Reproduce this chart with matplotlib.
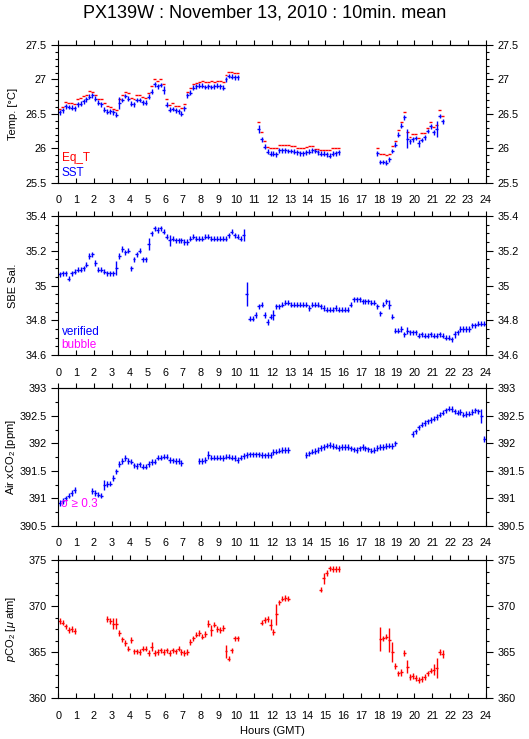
import numpy as np
import matplotlib
matplotlib.use("Agg")
import matplotlib.pyplot as plt
from matplotlib.ticker import MultipleLocator, FuncFormatter

plt.rcParams['font.family'] = ['Liberation Sans', 'DejaVu Sans']
plt.rcParams['mathtext.fontset'] = 'custom'
plt.rcParams['mathtext.rm'] = 'Liberation Sans'
plt.rcParams['mathtext.it'] = 'Liberation Sans:italic'
plt.rcParams['axes.linewidth'] = 0.8

STEP = 1.0 / 6.0   # 10-minute means
HALF = 1.0 / 12.0

TITLE = "PX139W : November 13, 2010 : 10min. mean"
hour_ticks = list(range(0, 25))
hour_labels = [str(h) for h in hour_ticks]

# ---------------- Temperature ----------------
sst_starts = [0.0833, 11.25, 17.9167]
sst_seg1 = [26.52, 26.55, 26.61, 26.60, 26.59, 26.58,
            26.64, 26.65, 26.68, 26.71, 26.75, 26.77,
            26.72, 26.66, 26.64, 26.56, 26.53, 26.54,
            26.52, 26.49, 26.66, 26.70, 26.76, 26.72,
            26.65, 26.64, 26.70, 26.70, 26.67, 26.66,
            26.75, 26.82, 26.93, 26.90, 26.92, 26.85,
            26.63, 26.56, 26.57, 26.55, 26.54, 26.50,
            26.58, 26.77, 26.81, 26.88, 26.90, 26.91,
            26.91, 26.89, 26.90, 26.89, 26.90, 26.91,
            26.90, 26.88, 27.00, 27.05, 27.04, 27.03,
            27.03]
sst_seg2 = [26.28, 26.13, 26.02, 25.95, 25.92,
            25.92, 25.91, 25.97, 25.97, 25.97, 25.96,
            25.96, 25.95, 25.94, 25.93, 25.93, 25.94,
            25.95, 25.97, 25.96, 25.94, 25.92, 25.92,
            25.91, 25.89, 25.92, 25.93, 25.94]
sst_seg3 = [25.93, 25.80, 25.80, 25.79, 25.84, 25.96, 26.05,
            26.20, 26.33, 26.45, 26.14, 26.10, 26.13,
            26.15, 26.07, 26.12, 26.16, 26.25, 26.32,
            26.23, 26.28, 26.47, 26.39]
eqt_seg1 = [26.57, 26.60, 26.67, 26.66, 26.66, 26.64,
            26.72, 26.73, 26.76, 26.78, 26.83, 26.82,
            26.78, 26.72, 26.71, 26.66, 26.62, 26.60,
            26.57, 26.56, 26.72, 26.77, 26.82, 26.81,
            26.73, 26.72, 26.78, 26.78, 26.75, 26.73,
            26.80, 26.90, 27.00, 26.97, 27.00, 26.93,
            26.72, 26.63, 26.66, 26.61, 26.62, 26.58,
            26.65, 26.82, 26.87, 26.94, 26.95, 26.96,
            26.97, 26.96, 26.96, 26.97, 26.96, 26.97,
            26.97, 26.96, 27.07, 27.11, 27.11, 27.10,
            27.10]
eqt_seg2 = [26.38, 26.23, 26.10, 26.02, 26.00,
            26.00, 26.00, 26.05, 26.05, 26.05, 26.05,
            26.04, 26.04, 26.00, 26.00, 26.00, 26.02,
            26.04, 26.04, 25.99, 25.99, 25.97, 25.97,
            25.97, 25.98, 26.00, 26.01, 26.01]
eqt_seg3 = [26.00, 25.91, 25.91, 25.90, 25.91, 26.04, 26.10,
            26.27, 26.38, 26.52, 26.24, 26.17, 26.21,
            26.21, 26.15, 26.22, 26.22, 26.30, 26.38,
            26.31, 26.34, 26.55, 26.47]
sst_err_default = 0.035
sst_err_large = {3.417: 0.09, 5.917: 0.06, 11.25: 0.06, 19.583: 0.14,
                 20.25: 0.05, 21.25: 0.12}

# ---------------- Salinity ----------------
sal_start = 0.0833
sal_vals = [35.065, 35.07, 35.07, 35.04, 35.07, 35.08,
            35.09, 35.09, 35.10, 35.12, 35.17, 35.18,
            35.13, 35.09, 35.09, 35.08, 35.07, 35.07,
            35.07, 35.10, 35.17, 35.21, 35.19, 35.20,
            35.10, 35.15, 35.18, 35.20, 35.15, 35.15,
            35.24, 35.30, 35.33, 35.32, 35.33, 35.31,
            35.28, 35.26, 35.27, 35.26, 35.26, 35.26,
            35.25, 35.25, 35.27, 35.28, 35.27, 35.27,
            35.27, 35.28, 35.28, 35.27, 35.27, 35.27,
            35.27, 35.27, 35.27, 35.29, 35.31, 35.29,
            35.28, 35.27, 35.29, 34.95, 34.81, 34.81,
            34.83, 34.88, 34.89, 34.83, 34.79, 34.82,
            34.83, 34.88, 34.88, 34.89, 34.90, 34.90,
            34.89, 34.89, 34.89, 34.89, 34.89, 34.89,
            34.87, 34.89, 34.89, 34.89, 34.88, 34.87,
            34.86, 34.86, 34.86, 34.87, 34.86, 34.86,
            34.86, 34.86, 34.89, 34.92, 34.92, 34.92,
            34.91, 34.91, 34.91, 34.90, 34.90, 34.88,
            34.84, 34.89, 34.91, 34.89, 34.82, 34.74,
            34.74, 34.75, 34.72, 34.74, 34.73, 34.73,
            34.73, 34.71, 34.72, 34.71, 34.71, 34.72,
            34.71, 34.71, 34.72, 34.71, 34.70, 34.70,
            34.69, 34.72, 34.73, 34.75, 34.75, 34.75,
            34.75, 34.77, 34.77, 34.78, 34.78, 34.78]
sal_err_default = 0.015
sal_err_large = {3.25: 0.04, 5.083: 0.035, 6.25: 0.03, 10.417: 0.035,
                 10.583: 0.07, 12.083: 0.03, 18.583: 0.025, 19.583: 0.02,
                 22.25: 0.02}

# ---------------- Air xCO2 ----------------
air_starts = [0.0833, 1.9167, 7.9167, 13.9167, 19.9167]
air_seg1 = [390.92, 390.95, 391.00, 391.05, 391.10, 391.15]
air_seg2 = [391.14, 391.10, 391.07, 391.05, 391.25, 391.26, 391.27, 391.37,
            391.49, 391.63, 391.68, 391.73, 391.68, 391.67, 391.60, 391.59,
            391.62, 391.58, 391.58, 391.63, 391.66, 391.67, 391.74, 391.74,
            391.76, 391.76, 391.70, 391.69, 391.68, 391.68, 391.64]
air_seg3 = [391.68, 391.68, 391.70, 391.79, 391.74, 391.74, 391.74, 391.74,
            391.73, 391.76, 391.76, 391.74, 391.73, 391.70, 391.74, 391.77,
            391.79, 391.80, 391.80, 391.80, 391.80, 391.79, 391.78, 391.79,
            391.79, 391.84, 391.85, 391.87, 391.88, 391.88, 391.88]
air_seg4 = [391.79, 391.82, 391.85, 391.86, 391.88, 391.92, 391.93, 391.96,
            391.97, 391.95, 391.94, 391.92, 391.93, 391.93, 391.93, 391.91,
            391.89, 391.88, 391.91, 391.93, 391.91, 391.89, 391.87, 391.88,
            391.92, 391.93, 391.93, 391.95, 391.96, 391.95, 392.00]
air_seg5 = [392.17, 392.22, 392.29, 392.34, 392.37, 392.40, 392.42, 392.45,
            392.48, 392.52, 392.56, 392.60, 392.63, 392.62, 392.58, 392.56,
            392.57, 392.52, 392.53, 392.54, 392.57, 392.60, 392.58, 392.50,
            392.08]
air_err_default = 0.05
air_err_large = {2.583: 0.09, 8.417: 0.07, 23.75: 0.13}

# ---------------- pCO2 ----------------
pco2_starts = [0.0833, 2.75, 11.4167, 14.75, 18.0833]
pco2_seg1 = [368.4, 368.2, 367.8, 367.4, 367.5, 367.3]
pco2_seg2 = [368.6, 368.4, 368.1, 368.1, 367.1, 366.4, 366.0, 365.4, 366.3, 365.1,
             365.1, 365.0, 365.4, 365.4, 364.9, 365.6, 364.9, 365.0, 365.2, 365.0,
             365.2, 364.9, 365.2, 365.1, 365.4, 365.0, 364.9, 365.0, 366.1, 366.5,
             366.9, 367.1, 366.7, 367.0, 368.1, 367.4, 368.0, 367.5, 367.4, 367.6,
             365.1, 364.3, 365.2, 366.5, 366.5]
pco2_seg3 = [368.2, 368.5, 368.6, 368.0, 367.2, 369.1, 370.4, 370.8, 370.9, 370.8]
pco2_seg4 = [371.8, 373.0, 373.6, 374.1, 374.0, 374.0, 374.0]
pco2_seg5 = [366.4, 366.5, 366.7, 366.3, 365.0, 363.5, 362.7, 362.8, 364.9, 363.4,
             362.3, 362.4, 362.2, 362.0, 362.1, 362.3, 362.7, 363.0, 363.1, 363.3,
             365.0, 364.8]
pco2_err_default = 0.3
pco2_err_large = {3.083: 0.6, 3.25: 0.6, 5.25: 0.5, 8.417: 0.4, 8.583: 0.6,
                  9.417: 0.7, 11.917: 0.6, 12.25: 1.1, 14.917: 0.6,
                  18.083: 1.3, 18.583: 1.3, 18.75: 1.1, 19.25: 0.4,
                  19.583: 0.7, 21.083: 0.6, 21.25: 1.1, 21.583: 0.4}

BLUE = '#0000ff'
RED = '#ff0000'
MAGENTA = '#ff00ff'


def seg_times(start, vals):
    return start + STEP * np.arange(len(vals))


def errs(times, default, large):
    e = np.full(len(times), default)
    for t, v in large.items():
        m = np.isclose(times, t, atol=0.03)
        e[m] = v
    return e


def draw(ax, starts, segs, color, default=None, large=None, yerr=True):
    for s, v in zip(starts, segs):
        t = seg_times(s, v)
        ye = errs(t, default, large) if yerr else None
        ax.errorbar(t, v, xerr=HALF, yerr=ye, fmt='none', ecolor=color,
                    elinewidth=1.0, capsize=0)


W, H = 529, 739
fig = plt.figure(figsize=(W / 100, H / 100), dpi=100)

left = 58.3 / W
width = (485.7 - 58.3) / W
panels_px = [(45.0, 182.7), (216.0, 355.0), (388.3, 526.0), (560.0, 698.3)]
axes = []
for top, bot in panels_px:
    axes.append(fig.add_axes([left, 1 - bot / H, width, (bot - top) / H]))

fmt = FuncFormatter(lambda v, p: '%g' % round(v, 4))


def setup(ax, ylim, major, minor, ylabel):
    ax.set_xlim(0, 24)
    ax.set_ylim(*ylim)
    ax.set_xticks(hour_ticks)
    ax.set_xticklabels(hour_labels)
    ax.tick_params(axis='x', which='both', direction='in', length=3.6,
                   width=0.8, pad=9.0, labelsize=7.8, top=False)
    ax.yaxis.set_major_locator(MultipleLocator(major))
    ax.yaxis.set_minor_locator(MultipleLocator(minor))
    ax.yaxis.set_major_formatter(fmt)
    ax.tick_params(axis='y', which='major', direction='out', length=5,
                   width=0.8, left=True, right=True, labelleft=True,
                   labelright=True, labelsize=7.8, pad=3.5)
    ax.tick_params(axis='y', which='minor', direction='out', length=2.4,
                   width=0.8, left=True, right=True)
    sec = ax.secondary_xaxis('top')
    sec.set_xticks(hour_ticks)
    sec.set_xticklabels([])
    sec.tick_params(axis='x', direction='out', length=3.6, width=0.8)
    sec.spines['top'].set_linewidth(0.8)
    ax.set_ylabel(ylabel, fontsize=8)
    ax.yaxis.set_label_coords(-0.094, 0.5)


ax1, ax2, ax3, ax4 = axes

# Panel 1: temperature
draw(ax1, sst_starts, [eqt_seg1, eqt_seg2, eqt_seg3], RED, yerr=False)
draw(ax1, sst_starts, [sst_seg1, sst_seg2, sst_seg3], BLUE,
     sst_err_default, sst_err_large)
setup(ax1, (25.5, 27.5), 0.5, 0.1, "Temp. [°C]")
ax1.text(0.008, 0.177, "Eq_T", color=RED, fontsize=8.5,
         transform=ax1.transAxes, va='center', ha='left')
ax1.text(0.008, 0.073, "SST", color=BLUE, fontsize=8.5,
         transform=ax1.transAxes, va='center', ha='left')

# Panel 2: salinity
draw(ax2, [sal_start], [sal_vals], BLUE, sal_err_default, sal_err_large)
setup(ax2, (34.6, 35.4), 0.2, 0.05, "SBE Sal.")
ax2.text(0.008, 0.168, "verified", color=BLUE, fontsize=8.5,
         transform=ax2.transAxes, va='center', ha='left')
ax2.text(0.008, 0.072, "bubble", color=MAGENTA, fontsize=8.5,
         transform=ax2.transAxes, va='center', ha='left')

# Panel 3: Air xCO2
draw(ax3, air_starts, [air_seg1, air_seg2, air_seg3, air_seg4, air_seg5],
     BLUE, air_err_default, air_err_large)
setup(ax3, (390.5, 393.0), 0.5, 0.25, "Air xCO$_2$ [ppm]")
ax3.text(0.006, 0.16, "σ ≥ 0.3", color=MAGENTA, fontsize=8.5,
         transform=ax3.transAxes, va='center', ha='left')

# Panel 4: pCO2
draw(ax4, pco2_starts, [pco2_seg1, pco2_seg2, pco2_seg3, pco2_seg4, pco2_seg5],
     RED, pco2_err_default, pco2_err_large)
setup(ax4, (360, 375), 5, 1.25, "$p$CO$_2$ [$\\mu$ atm]")
ax4.set_xlabel("Hours (GMT)", fontsize=8, labelpad=4)

fig.text(0.5, 1 - 13 / H, TITLE, ha='center', va='center', fontsize=13)

fig.savefig("out.png", dpi=100)
